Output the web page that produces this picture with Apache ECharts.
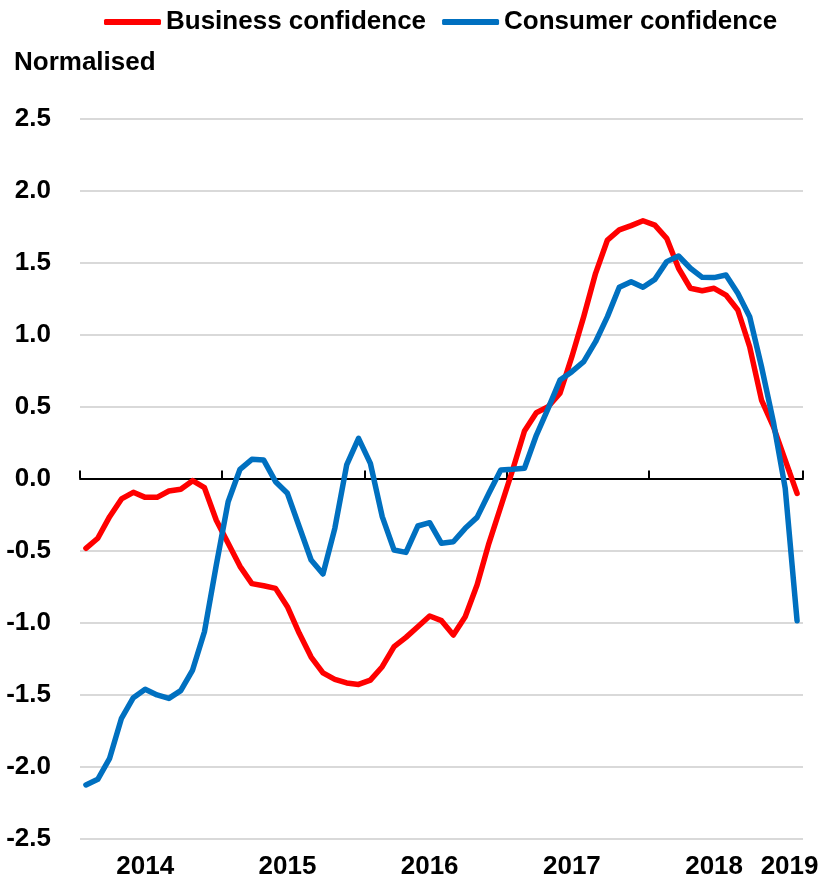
<!DOCTYPE html>
<html>
<head>
<meta charset="utf-8">
<script src="https://cdn.jsdelivr.net/npm/echarts@6/dist/echarts.min.js"></script>
<style>
html,body{margin:0;padding:0;background:#fff;}
#chart{width:827px;height:882px;}
</style>
</head>
<body>
<div id="chart"></div>
<script>
// Monthly categories Jan 2014 .. Jan 2019
const months = [];
for (let y = 2014; y <= 2019; y++) {
  for (let m = 1; m <= 12; m++) {
    if (y === 2019 && m > 1) break;
    months.push(y + '-' + (m < 10 ? '0' + m : m));
  }
}

const yearLabels = ['2014', '2015', '2016', '2017', '2018', '2019'];
const yearLabelIndex = [5, 17, 29, 41, 53, 60];
const yearTickIndex = [0, 12, 24, 36, 48, 60];

const businessConfidence = [
  -0.485, -0.415, -0.265, -0.142, -0.096, -0.131, -0.131, -0.087, -0.075, -0.015, -0.064, -0.290,
  -0.450, -0.610, -0.730, -0.745, -0.763, -0.890, -1.075, -1.240, -1.350, -1.395, -1.420, -1.430,
  -1.400, -1.307, -1.168, -1.103, -1.029, -0.955, -0.987, -1.087, -0.960, -0.740, -0.450, -0.196,
   0.059,  0.330,  0.457,  0.499,  0.592,  0.846,  1.124,  1.425,  1.656,  1.726,  1.756,  1.790,
   1.760,  1.668,  1.460,  1.321,  1.304,  1.321,  1.274,  1.170,  0.915,  0.545,  0.360,  0.128,
  -0.103
];

const consumerConfidence = [
  -2.128, -2.089, -1.943, -1.665, -1.522, -1.464, -1.503, -1.527, -1.473, -1.330, -1.064, -0.600,
  -0.161,  0.064,  0.133,  0.128, -0.022, -0.103, -0.335, -0.566, -0.663, -0.346,  0.094,  0.279,
   0.105, -0.265, -0.497, -0.513, -0.330, -0.307, -0.450, -0.439, -0.346, -0.270, -0.103,  0.059,
   0.064,  0.071,  0.300,  0.487,  0.684,  0.742,  0.811,  0.950,  1.124,  1.328,  1.367,  1.328,
   1.383,  1.506,  1.545,  1.460,  1.397,  1.395,  1.413,  1.286,  1.124,  0.776,  0.394, -0.068,
  -0.988
];

const FONT = '"Liberation Sans", Arial, sans-serif';
const FS = 26;

const chart = echarts.init(document.getElementById('chart'), null, {renderer: 'canvas'});

const option = {
  backgroundColor: '#ffffff',
  animation: false,
  title: {
    text: 'Normalised',
    left: 14,
    top: 50,
    padding: 0,
    textStyle: {fontFamily: FONT, fontSize: FS, fontWeight: 'bold', color: '#000'}
  },
  legend: {
    left: 104,
    top: 9,
    padding: 0,
    itemWidth: 57,
    itemHeight: 6,
    itemGap: 16,
    icon: 'roundRect',
    textStyle: {fontFamily: FONT, fontSize: FS, fontWeight: 'bold', color: '#000'},
    data: ['Business confidence', 'Consumer confidence']
  },
  grid: {left: 80, right: 24, top: 118.5, bottom: 43.5, containLabel: false, outerBoundsMode: 'none'},
  xAxis: [
    {
      type: 'category',
      data: months,
      boundaryGap: true,
      position: 'bottom',
      axisLine: {show: false, onZero: false},
      axisTick: {show: false},
      splitLine: {show: false},
      axisLabel: {
        margin: 15,
        interval: function (idx) { return yearLabelIndex.indexOf(idx) >= 0; },
        formatter: function (val, idx) {
          const k = yearLabelIndex.indexOf(idx);
          if (k < 0) return '';
          return (idx === 60 ? '{b|' : '{a|') + yearLabels[k] + '}';
        },
        rich: {
          a: {fontFamily: FONT, fontSize: FS, fontWeight: 'bold', color: '#000'},
          b: {fontFamily: FONT, fontSize: FS, fontWeight: 'bold', color: '#000', padding: [0, 15, 0, 0]}
        }
      }
    },
    {
      type: 'category',
      data: months,
      boundaryGap: true,
      position: 'bottom',
      axisLine: {show: true, onZero: true, lineStyle: {color: '#000', width: 2}},
      axisTick: {
        show: true,
        inside: true,
        length: 8,
        interval: function (idx) { return yearTickIndex.indexOf(idx) >= 0; },
        lineStyle: {color: '#000', width: 2}
      },
      axisLabel: {show: false},
      splitLine: {show: false}
    }
  ],
  yAxis: {
    type: 'value',
    min: -2.5,
    max: 2.5,
    interval: 0.5,
    axisLine: {show: false},
    axisTick: {show: false},
    axisLabel: {
      margin: 29,
      formatter: function (v) { return v.toFixed(1); },
      fontFamily: FONT, fontSize: FS, fontWeight: 'bold', color: '#000'
    },
    splitLine: {show: true, lineStyle: {color: '#D9D9D9', width: 2}}
  },
  series: [
    {
      name: 'Business confidence',
      type: 'line',
      xAxisIndex: 0,
      data: businessConfidence,
      symbol: 'none',
      smooth: false,
      color: '#FF0000',
      lineStyle: {color: '#FF0000', width: 5.5, join: 'round', cap: 'round'},
      z: 3
    },
    {
      name: 'Consumer confidence',
      type: 'line',
      xAxisIndex: 0,
      data: consumerConfidence,
      symbol: 'none',
      smooth: false,
      color: '#0070C0',
      lineStyle: {color: '#0070C0', width: 5.5, join: 'round', cap: 'round'},
      z: 4
    }
  ]
};

chart.setOption(option);
</script>
</body>
</html>
